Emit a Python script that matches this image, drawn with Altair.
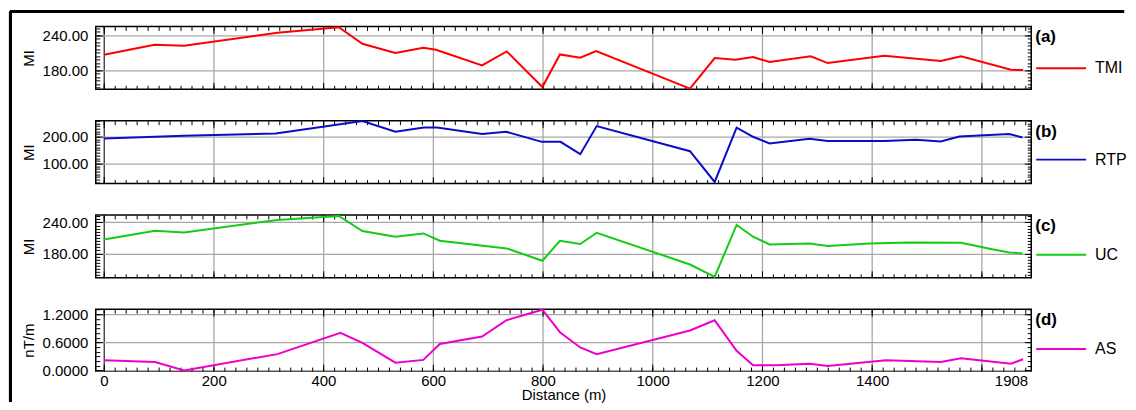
import altair as alt
import pandas as pd

FONT = "Liberation Sans"

# ---- data ----
TMI_X = [0, 92, 146, 316, 428, 471, 531, 582, 605, 689, 734, 799, 831, 868, 897, 1068, 1113, 1151, 1183, 1213, 1288, 1319, 1422, 1525, 1562, 1653, 1675]
TMI_V = [206.9, 223.9, 222.2, 244.5, 254.0, 225.6, 209.7, 218.7, 215.3, 188.6, 212.6, 151.4, 207.4, 201.6, 213.1, 148.5, 201.1, 198.2, 202.8, 194.3, 204.0, 192.5, 205.0, 196.0, 204.0, 181.0, 180.5]

RTP_X = [0, 93, 146, 313, 471, 531, 583, 607, 689, 733, 798, 832, 868, 898, 1068, 1113, 1153, 1183, 1213, 1286, 1319, 1422, 1480, 1525, 1559, 1650, 1674]
RTP_V = [193.6, 200.0, 204.0, 212.4, 258.9, 218.75, 235.0, 235.0, 210.0, 218.75, 181.0, 181.0, 135.0, 240.0, 146.0, 31.0, 233.75, 200.0, 175.0, 192.5, 184.0, 184.0, 189.0, 182.5, 201.0, 210.0, 197.5]

UC_X = [0, 93, 146, 316, 428, 471, 531, 582, 612, 734, 799, 831, 868, 898, 1068, 1113, 1153, 1183, 1213, 1286, 1319, 1395, 1468, 1562, 1619, 1650, 1674]
UC_V = [207.1, 224.0, 220.7, 244.6, 252.4, 223.4, 212.3, 218.7, 204.6, 189.7, 166.0, 204.6, 198.2, 220.0, 158.7, 135.0, 235.0, 212.3, 197.4, 199.4, 194.3, 199.4, 201.3, 200.7, 188.0, 182.0, 180.0]

AS_X = [0, 93, 146, 316, 431, 471, 531, 582, 612, 689, 733, 799, 831, 868, 898, 1068, 1113, 1153, 1183, 1225, 1286, 1319, 1425, 1525, 1562, 1653, 1675]
AS_V = [0.217, 0.18, 0.0, 0.348, 0.804, 0.587, 0.165, 0.224, 0.565, 0.724, 1.072, 1.30, 0.818, 0.491, 0.348, 0.854, 1.072, 0.42, 0.109, 0.109, 0.143, 0.094, 0.217, 0.18, 0.261, 0.143, 0.239]

SERIES = ["TMI", "RTP", "UC", "AS"]
COLORS = ["#ff0000", "#0c0cc8", "#14cc14", "#ee00cc"]
TAGS = ["(a)", "(b)", "(c)", "(d)"]
Y_TITLES = ["MI", "MI", "MI", "nT/m"]

X_DOMAIN = [-15, 1690]
X_GRID = [0, 200, 400, 600, 800, 1000, 1200, 1400, 1600]
X_LAST_LABEL_AT = 1653
X_LAST_LABEL = "1908"
X_MINOR = list(range(0, 1681, 20))

W = 938


def tick_axis(orient, values, size):
    return alt.Axis(orient=orient, values=values, ticks=True, tickSize=size,
                    offset=-size, tickColor="black", tickWidth=1,
                    labels=False, domain=False, grid=False, title=None)


def panel(xs, vs, idx, ydom, ymajor, yminor, fmt, tpad, h, last=False, frame=False):
    name = SERIES[idx]
    df = pd.DataFrame({"Distance": xs, "Value": vs, "Series": [name] * len(xs)})
    xsc = alt.Scale(domain=X_DOMAIN, nice=False, zero=False)
    ysc = alt.Scale(domain=ydom, nice=False, zero=False)
    base = alt.Chart(df)

    main_x = alt.Axis(
        orient="bottom", values=X_GRID + [X_LAST_LABEL_AT], grid=True,
        gridColor={"condition": {"test": "datum.value === 0", "value": "#333333"}, "value": "#a8a8a8"},
        gridOpacity={"condition": {"test": "datum.value === %d" % X_LAST_LABEL_AT, "value": 0}, "value": 1},
        gridWidth=1.3, ticks=False, tickSize=0, domain=False, labels=last,
        labelExpr="datum.value === %d ? '%s' : (datum.value === 1600 ? '' : datum.label)" % (X_LAST_LABEL_AT, X_LAST_LABEL),
        format="d", labelFontSize=15, labelPadding=2, labelFont=FONT, labelColor="black",
        title="Distance (m)" if last else None, titleFontSize=15, titleFontWeight="normal",
        titlePadding=0, titleFont=FONT, titleColor="black")
    main_y = alt.Axis(
        orient="left", values=ymajor, grid=True, gridColor="#a8a8a8", gridWidth=1.3,
        ticks=False, tickSize=0, domain=False, format=fmt, labelFontSize=15,
        labelPadding=8, labelFont=FONT, labelColor="black",
        title=Y_TITLES[idx], titleFontSize=15, titleFontWeight="normal",
        titlePadding=6, titleFont=FONT, titleColor="black")

    line = base.mark_line(strokeWidth=2).encode(
        x=alt.X("Distance:Q", scale=xsc, axis=main_x),
        y=alt.Y("Value:Q", scale=ysc, axis=main_y),
        color=alt.Color("Series:N",
                        scale=alt.Scale(domain=[name], range=[COLORS[idx]]),
                        legend=alt.Legend(orient="none", legendX=W + 4, legendY=3,
                                          title=TAGS[idx], titleFontSize=17,
                                          titleFontWeight="bold", titleFont=FONT,
                                          titleColor="black", titlePadding=tpad,
                                          labelFontSize=16, labelFont=FONT,
                                          labelColor="black", labelOffset=8,
                                          symbolType="stroke", symbolSize=2500,
                                          symbolStrokeWidth=2, padding=0)),
    )

    layers = [line]
    specs = [
        ("top", X_MINOR, 4, "right", yminor, 4),
        ("bottom", X_MINOR, 4, "left", yminor, 4),
        ("top", X_GRID, 7, "right", ymajor, 7),
        ("bottom", X_GRID, 7, "left", ymajor, 7),
    ]
    for xo, xv, xs_, yo, yv, ys_ in specs:
        layers.append(base.mark_line(strokeOpacity=0).encode(
            x=alt.X("Distance:Q", scale=xsc, axis=tick_axis(xo, xv, xs_)),
            y=alt.Y("Value:Q", scale=ysc, axis=tick_axis(yo, yv, ys_)),
        ))

    if frame:
        layers.append(base.mark_rule(color="black", strokeWidth=3).encode(
            x=alt.value(-85.5), x2=alt.value(W + 93), y=alt.value(-15)))
        layers.append(base.mark_rule(color="black", strokeWidth=3).encode(
            x=alt.value(-85.5), y=alt.value(-15), y2=alt.value(376)))

    return alt.layer(*layers).resolve_axis(x="independent", y="independent").properties(
        width=W, height=h)


def steps(a, b, s):
    out = []
    v = a
    while v <= b + 1e-9:
        out.append(round(v, 4))
        v += s
    return out


pa = panel(TMI_X, TMI_V, 0, [147.4, 255.4], [180, 240], steps(150, 252, 6), ".2f", -4, 63, frame=True)
pb = panel(RTP_X, RTP_V, 1, [25, 260], [100, 200], steps(30, 260, 10), ".2f", -7, 63)
pc = panel(UC_X, UC_V, 2, [133, 254.3], [180, 240], steps(138, 252, 6), ".2f", -6, 63)
pd_ = panel(AS_X, AS_V, 3, [-0.015, 1.31], [0.0, 0.6, 1.2], steps(0.0, 1.3, 0.1), ".4f", -6, 62, last=True)

chart = alt.vconcat(pa, pb, pc, pd_, spacing=31.5, bounds="flush").resolve_scale(
    color="independent"
).configure_view(stroke="black", strokeWidth=1.5).properties(padding=0)

chart.save("out.html", embed_options={"renderer": "svg", "actions": False})
